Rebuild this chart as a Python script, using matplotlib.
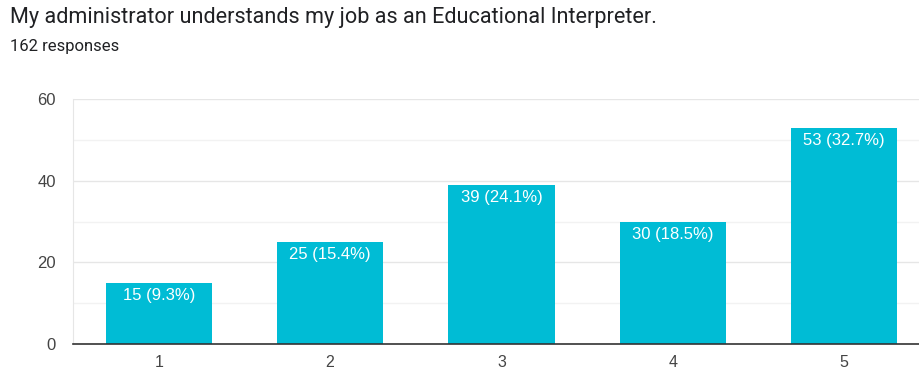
import matplotlib.pyplot as plt
import numpy as np

plt.rcParams['font.family'] = ['Roboto', 'DejaVu Sans']

title = "My administrator understands my job as an Educational Interpreter."
subtitle = "162 responses"
categories = ["1", "2", "3", "4", "5"]
counts = [15, 25, 39, 30, 53]
percents = [9.3, 15.4, 24.1, 18.5, 32.7]
yticks = [0, 20, 40, 60]

bar_color = "#00bcd5"
chart_font = ['Liberation Sans', 'DejaVu Sans']

fig = plt.figure(figsize=(9.2, 3.73), dpi=100)
ax = fig.add_axes([73 / 920, 29 / 373, 857 / 920, 245 / 373])

x = np.arange(len(categories))
bars = ax.bar(x, counts, width=0.62, color=bar_color, zorder=3)

for b, c, p in zip(bars, counts, percents):
    ax.annotate(f"{c} ({p}%)", (b.get_x() + b.get_width() / 2, c),
                xytext=(0, -9), textcoords="offset points",
                ha="center", va="center", color="white", fontsize=12,
                family=chart_font, zorder=4)

ax.set_xlim(-0.5, len(categories) - 0.5)
ax.set_ylim(0, 60)
ax.set_xticks(x)
ax.set_xticklabels(categories, family=chart_font, fontsize=11.5)
ax.set_yticks(yticks)
ax.set_yticklabels([str(t) for t in yticks], family=chart_font, fontsize=12)
ax.set_yticks(np.arange(10, 60, 20), minor=True)
ax.grid(axis="y", which="major", color="#e6e6e6", lw=1, zorder=0)
ax.grid(axis="y", which="minor", color="#f2f2f2", lw=1, zorder=0)
ax.tick_params(axis="both", which="both", length=0, labelcolor="#444444")
ax.tick_params(axis="x", pad=8)
ax.tick_params(axis="y", pad=12.5)

for s in ["top", "right"]:
    ax.spines[s].set_visible(False)
ax.spines["left"].set_color("#e6e6e6")
ax.spines["bottom"].set_color("#333333")
ax.spines["bottom"].set_linewidth(1.2)
ax.spines["bottom"].set_zorder(5)

fig.text(10 / 920, 1 - 18 / 373, title, fontsize=15.6, color="#202124", va="center", ha="left")
fig.text(10 / 920, 1 - 46 / 373, subtitle, fontsize=12, color="#202124", va="center", ha="left")

fig.savefig("out.png", dpi=100)
